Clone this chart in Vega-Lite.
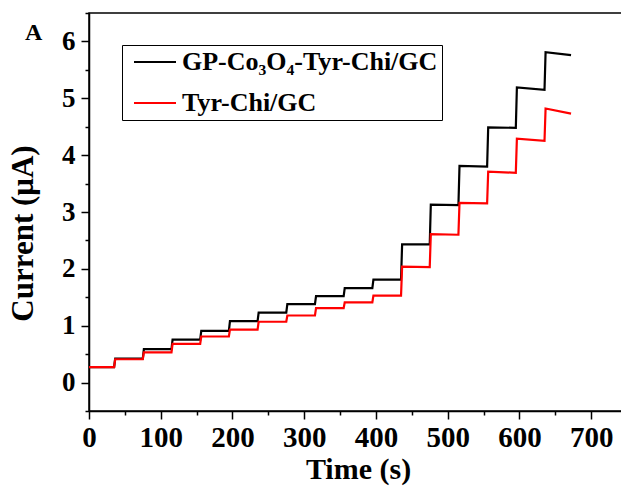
{
  "$schema": "https://vega.github.io/schema/vega-lite/v6.json",
  "width": 538,
  "height": 398,
  "autosize": "none",
  "padding": {"left": 89, "top": 13, "right": 0, "bottom": 75},
  "background": "white",
  "config": {
    "view": {"stroke": "black", "strokeWidth": 1.5},
    "font": "Liberation Serif"
  },
  "title": {"text": "A", "anchor": "start", "frame": "group", "font": "Liberation Serif", "fontSize": 24, "fontWeight": "bold", "color": "black", "dx": -64, "dy": 50},
  "data": {"values": [
    {"series": "GP-Co₃O₄-Tyr-Chi/GC", "t": 0, "i": 0.27},
    {"series": "GP-Co₃O₄-Tyr-Chi/GC", "t": 35, "i": 0.27},
    {"series": "GP-Co₃O₄-Tyr-Chi/GC", "t": 36.5, "i": 0.42},
    {"series": "GP-Co₃O₄-Tyr-Chi/GC", "t": 75, "i": 0.42},
    {"series": "GP-Co₃O₄-Tyr-Chi/GC", "t": 76.5, "i": 0.59},
    {"series": "GP-Co₃O₄-Tyr-Chi/GC", "t": 115, "i": 0.59},
    {"series": "GP-Co₃O₄-Tyr-Chi/GC", "t": 116.5, "i": 0.755},
    {"series": "GP-Co₃O₄-Tyr-Chi/GC", "t": 155, "i": 0.755},
    {"series": "GP-Co₃O₄-Tyr-Chi/GC", "t": 156.5, "i": 0.91},
    {"series": "GP-Co₃O₄-Tyr-Chi/GC", "t": 195, "i": 0.91},
    {"series": "GP-Co₃O₄-Tyr-Chi/GC", "t": 196.5, "i": 1.08},
    {"series": "GP-Co₃O₄-Tyr-Chi/GC", "t": 235, "i": 1.08},
    {"series": "GP-Co₃O₄-Tyr-Chi/GC", "t": 236.5, "i": 1.23},
    {"series": "GP-Co₃O₄-Tyr-Chi/GC", "t": 275, "i": 1.23},
    {"series": "GP-Co₃O₄-Tyr-Chi/GC", "t": 276.5, "i": 1.38},
    {"series": "GP-Co₃O₄-Tyr-Chi/GC", "t": 315, "i": 1.38},
    {"series": "GP-Co₃O₄-Tyr-Chi/GC", "t": 316.5, "i": 1.52},
    {"series": "GP-Co₃O₄-Tyr-Chi/GC", "t": 355, "i": 1.52},
    {"series": "GP-Co₃O₄-Tyr-Chi/GC", "t": 356.5, "i": 1.66},
    {"series": "GP-Co₃O₄-Tyr-Chi/GC", "t": 395, "i": 1.66},
    {"series": "GP-Co₃O₄-Tyr-Chi/GC", "t": 396.5, "i": 1.81},
    {"series": "GP-Co₃O₄-Tyr-Chi/GC", "t": 435, "i": 1.81},
    {"series": "GP-Co₃O₄-Tyr-Chi/GC", "t": 436.5, "i": 2.43},
    {"series": "GP-Co₃O₄-Tyr-Chi/GC", "t": 475, "i": 2.43},
    {"series": "GP-Co₃O₄-Tyr-Chi/GC", "t": 476.5, "i": 3.13},
    {"series": "GP-Co₃O₄-Tyr-Chi/GC", "t": 515, "i": 3.12},
    {"series": "GP-Co₃O₄-Tyr-Chi/GC", "t": 516.5, "i": 3.81},
    {"series": "GP-Co₃O₄-Tyr-Chi/GC", "t": 555, "i": 3.8},
    {"series": "GP-Co₃O₄-Tyr-Chi/GC", "t": 556.5, "i": 4.49},
    {"series": "GP-Co₃O₄-Tyr-Chi/GC", "t": 595, "i": 4.48},
    {"series": "GP-Co₃O₄-Tyr-Chi/GC", "t": 596.5, "i": 5.19},
    {"series": "GP-Co₃O₄-Tyr-Chi/GC", "t": 635, "i": 5.15},
    {"series": "GP-Co₃O₄-Tyr-Chi/GC", "t": 636.5, "i": 5.81},
    {"series": "GP-Co₃O₄-Tyr-Chi/GC", "t": 672, "i": 5.76},
    {"series": "Tyr-Chi/GC", "t": 0, "i": 0.27},
    {"series": "Tyr-Chi/GC", "t": 35, "i": 0.27},
    {"series": "Tyr-Chi/GC", "t": 36.5, "i": 0.41},
    {"series": "Tyr-Chi/GC", "t": 75, "i": 0.41},
    {"series": "Tyr-Chi/GC", "t": 76.5, "i": 0.53},
    {"series": "Tyr-Chi/GC", "t": 115, "i": 0.53},
    {"series": "Tyr-Chi/GC", "t": 116.5, "i": 0.68},
    {"series": "Tyr-Chi/GC", "t": 155, "i": 0.68},
    {"series": "Tyr-Chi/GC", "t": 156.5, "i": 0.81},
    {"series": "Tyr-Chi/GC", "t": 195, "i": 0.81},
    {"series": "Tyr-Chi/GC", "t": 196.5, "i": 0.93},
    {"series": "Tyr-Chi/GC", "t": 235, "i": 0.93},
    {"series": "Tyr-Chi/GC", "t": 236.5, "i": 1.07},
    {"series": "Tyr-Chi/GC", "t": 275, "i": 1.07},
    {"series": "Tyr-Chi/GC", "t": 276.5, "i": 1.18},
    {"series": "Tyr-Chi/GC", "t": 315, "i": 1.18},
    {"series": "Tyr-Chi/GC", "t": 316.5, "i": 1.31},
    {"series": "Tyr-Chi/GC", "t": 355, "i": 1.31},
    {"series": "Tyr-Chi/GC", "t": 356.5, "i": 1.41},
    {"series": "Tyr-Chi/GC", "t": 395, "i": 1.41},
    {"series": "Tyr-Chi/GC", "t": 396.5, "i": 1.53},
    {"series": "Tyr-Chi/GC", "t": 435, "i": 1.53},
    {"series": "Tyr-Chi/GC", "t": 436.5, "i": 2.04},
    {"series": "Tyr-Chi/GC", "t": 475, "i": 2.03},
    {"series": "Tyr-Chi/GC", "t": 476.5, "i": 2.61},
    {"series": "Tyr-Chi/GC", "t": 515, "i": 2.6},
    {"series": "Tyr-Chi/GC", "t": 516.5, "i": 3.16},
    {"series": "Tyr-Chi/GC", "t": 555, "i": 3.15},
    {"series": "Tyr-Chi/GC", "t": 556.5, "i": 3.71},
    {"series": "Tyr-Chi/GC", "t": 595, "i": 3.69},
    {"series": "Tyr-Chi/GC", "t": 596.5, "i": 4.29},
    {"series": "Tyr-Chi/GC", "t": 635, "i": 4.25},
    {"series": "Tyr-Chi/GC", "t": 636.5, "i": 4.82},
    {"series": "Tyr-Chi/GC", "t": 672, "i": 4.73}
  ]},
  "mark": {"type": "line", "strokeWidth": 2.2},
  "encoding": {
    "x": {
      "field": "t", "type": "quantitative",
      "scale": {"domain": [0, 750], "nice": false, "zero": false},
      "axis": {
        "values": [0, 50, 100, 150, 200, 250, 300, 350, 400, 450, 500, 550, 600, 650, 700, 750],
        "labelExpr": "datum.value % 100 === 0 ? datum.label : ''",
        "tickSize": {"condition": {"test": "datum.value % 100 === 0", "value": 8}, "value": 4},
        "grid": false,
        "title": "Time (s)",
        "titleFont": "Liberation Serif", "titleFontSize": 30, "titleFontWeight": "bold", "titleColor": "black", "titlePadding": 2,
        "labelFont": "Liberation Serif", "labelFontSize": 29, "labelFontWeight": "bold", "labelColor": "black", "labelPadding": 4,
        "labelFlush": false, "labelOverlap": false,
        "domainColor": "black", "domainWidth": 1.5, "tickColor": "black", "tickWidth": 1.5
      }
    },
    "y": {
      "field": "i", "type": "quantitative",
      "scale": {"domain": [-0.5, 6.5], "nice": false, "zero": false},
      "axis": {
        "values": [-0.5, 0, 0.5, 1, 1.5, 2, 2.5, 3, 3.5, 4, 4.5, 5, 5.5, 6, 6.5],
        "labelExpr": "datum.value % 1 === 0 ? format(datum.value, 'd') : ''",
        "tickSize": {"condition": {"test": "datum.value % 1 === 0", "value": 8}, "value": 4},
        "grid": false,
        "title": "Current (μA)",
        "titleFont": "Liberation Serif", "titleFontSize": 31, "titleFontWeight": "bold", "titleColor": "black", "titlePadding": 22,
        "titleY": 220,
        "labelFont": "Liberation Serif", "labelFontSize": 27, "labelFontWeight": "bold", "labelColor": "black", "labelPadding": 6,
        "labelFlush": false, "labelOverlap": false,
        "domainColor": "black", "domainWidth": 1.5, "tickColor": "black", "tickWidth": 1.5
      }
    },
    "color": {
      "field": "series", "type": "nominal",
      "scale": {"domain": ["GP-Co₃O₄-Tyr-Chi/GC", "Tyr-Chi/GC"], "range": ["#000000", "#ff0000"]},
      "legend": {
        "title": null, "orient": "none", "legendX": 33, "legendY": 32,
        "strokeColor": "black", "padding": 4,
        "symbolType": "M-2,0H2", "symbolSize": 441, "symbolStrokeWidth": 2, "symbolOffset": 16,
        "labelFont": "Liberation Serif", "labelFontSize": 26, "labelFontWeight": "bold", "labelColor": "black",
        "labelOffset": 14, "labelLimit": 0, "rowPadding": 15
      }
    }
  }
}
